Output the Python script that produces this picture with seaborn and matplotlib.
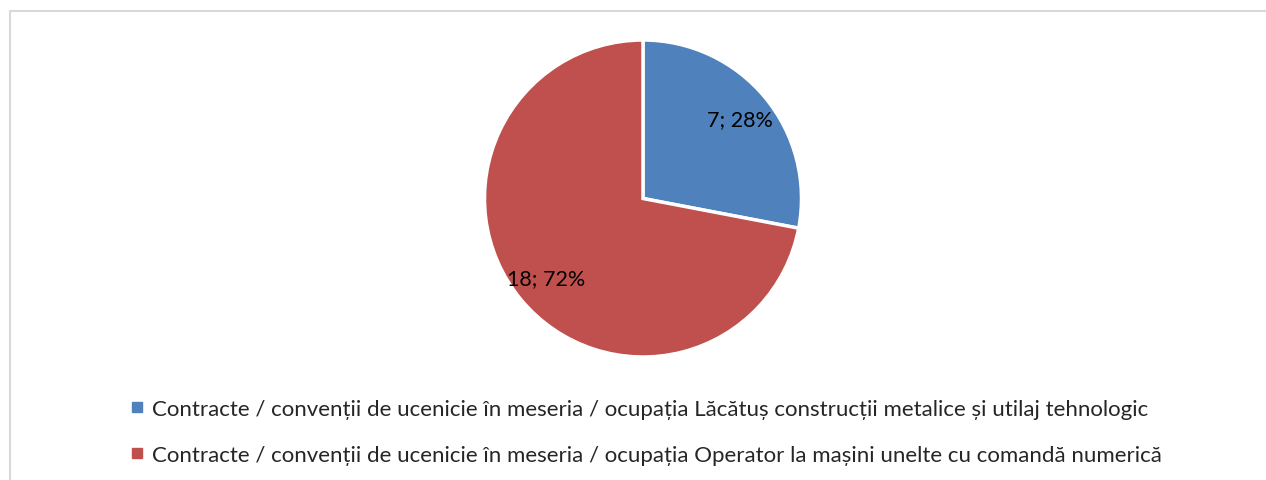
import matplotlib
matplotlib.use("Agg")
import matplotlib.pyplot as plt
from matplotlib.lines import Line2D
import seaborn as sns

# Apprenticeship contracts by trade
categories = [
    "Contracte / convenții de ucenicie în meseria / ocupația Lăcătuș construcții metalice și utilaj tehnologic",
    "Contracte / convenții de ucenicie în meseria / ocupația Operator la mașini unelte cu comandă numerică",
]
counts = [7, 18]
colors = ["#4F81BD", "#C0504D"]

sns.set_theme(style="white")
plt.rcParams["font.family"] = ["Lato", "DejaVu Sans"]

W, H = 1266, 481
fig = plt.figure(figsize=(W / 100, H / 100), dpi=100)
fig.patch.set_facecolor("white")

# Chart-area border (top and left edges visible)
bx, by = 9.5, 11.5
fig.add_artist(Line2D([bx / W, bx / W], [0, 1 - by / H], transform=fig.transFigure,
                      color="#d9d9d9", lw=1.5))
fig.add_artist(Line2D([bx / W, 1], [1 - by / H, 1 - by / H], transform=fig.transFigure,
                      color="#d9d9d9", lw=1.5))

# Pie area
cx, cy, r = 643, 199.5, 158.5
ax = fig.add_axes([(cx - r) / W, (H - cy - r) / H, 2 * r / W, 2 * r / H])
total = sum(counts)


def label_fmt(pct):
    value = round(pct * total / 100)
    return f"{value}; {pct:.0f}%"


wedges, _, autotexts = ax.pie(
    counts,
    colors=colors,
    startangle=90,
    counterclock=False,
    autopct=label_fmt,
    pctdistance=0.79,
    wedgeprops=dict(edgecolor="white", linewidth=2.5),
    textprops=dict(fontsize=15.5, color="black"),
)
ax.set_xlim(-1, 1)
ax.set_ylim(-1, 1)
ax.set_aspect("equal")
ax.axis("off")

handles = [Line2D([], [], marker="s", linestyle="none", markersize=7,
                  markerfacecolor=c, markeredgecolor=c) for c in colors]
fig.legend(
    handles, categories,
    loc="upper left",
    bbox_to_anchor=(129 / W, 1 - 400 / H),
    frameon=False,
    fontsize=16,
    handlelength=0.7,
    handletextpad=0.35,
    labelspacing=1.15,
    borderaxespad=0,
    borderpad=0,
)

fig.savefig("out.png", dpi=100, facecolor="white")
